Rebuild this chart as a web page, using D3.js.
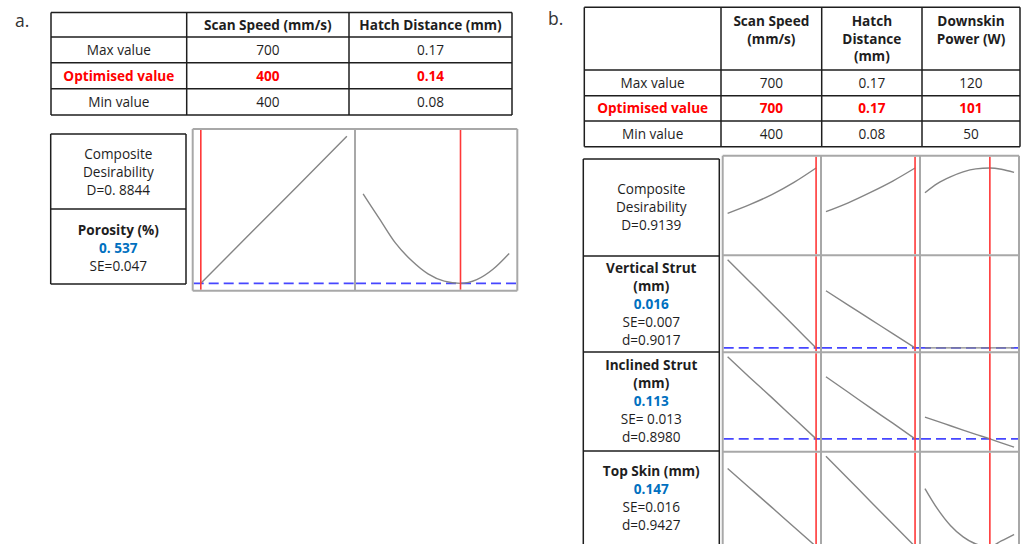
<!DOCTYPE html>
<html>
<head>
<meta charset="utf-8">
<script src="https://cdn.jsdelivr.net/npm/d3@7"></script>
<style>
  html, body { margin: 0; padding: 0; background: #fff; }
  svg { display: block; font-family: "Open Sans", "Noto Sans", sans-serif; }
</style>
</head>
<body>
<script>
// ---------- Panel a: porosity optimisation ----------
const aFactorNames = ["Scan Speed (mm/s)", "Hatch Distance (mm)"];
const aRowNames = ["Max value", "Optimised value", "Min value"];
const aMaxValues = ["700", "0.17"];
const aOptValues = ["400", "0.14"];
const aMinValues = ["400", "0.08"];

const aScanSpeed = [400, 500, 600, 700];
const aPorosityVsScan = [0.537, 1.175, 1.81, 2.45];
const aHatch = [0.08, 0.09, 0.10, 0.11, 0.12, 0.13, 0.14, 0.15, 0.16, 0.17];
const aPorosityVsHatch = [1.70, 1.38, 1.06, 0.83, 0.66, 0.565, 0.537, 0.585, 0.72, 0.926];
const aPorosityPredicted = 0.537;

const aDesirLabel = ["Composite", "Desirability", "D=0. 8844"];
const aPorosityLabel = ["Porosity (%)", "0. 537", "SE=0.047"];

// ---------- Panel b: strut / skin optimisation ----------
const bFactorNames = [["Scan Speed", "(mm/s)"], ["Hatch", "Distance", "(mm)"], ["Downskin", "Power (W)"]];
const bRowNames = ["Max value", "Optimised value", "Min value"];
const bMaxValues = ["700", "0.17", "120"];
const bOptValues = ["700", "0.17", "101"];
const bMinValues = ["400", "0.08", "50"];

const bScanSpeed = [400, 475, 550, 625, 700];
const bHatch = [0.08, 0.1025, 0.125, 0.1475, 0.17];
const bPower = [50, 60, 70, 80, 90, 101, 110, 120];

const desirVsScan  = [0.414, 0.51, 0.62, 0.755, 0.9139];
const desirVsHatch = [0.432, 0.53, 0.645, 0.77, 0.9139];
const desirVsPower = [0.641, 0.744, 0.816, 0.871, 0.904, 0.9139, 0.90, 0.865];

const vertVsScan  = [0.120, 0.094, 0.068, 0.042, 0.016];
const vertVsHatch = [0.0834, 0.0665, 0.0497, 0.0328, 0.016];
const vertVsPower = [0.016, 0.016, 0.016, 0.016, 0.016, 0.016, 0.016, 0.016];

const inclVsScan  = [0.296, 0.250, 0.205, 0.159, 0.113];
const inclVsHatch = [0.2515, 0.217, 0.182, 0.148, 0.113];
const inclVsPower = [0.1615, 0.152, 0.1423, 0.1327, 0.1232, 0.113, 0.1041, 0.0945];

const topVsScan  = [0.40, 0.337, 0.274, 0.210, 0.147];
const topVsHatch = [0.440, 0.367, 0.293, 0.220, 0.147];
const topVsPower = [0.335, 0.268, 0.215, 0.178, 0.155, 0.147, 0.165, 0.186];

const bPredicted = [null, 0.016, 0.113, 0.147];

const bDesirLabel = ["Composite", "Desirability", "D=0.9139"];
const bVertLabel = ["Vertical Strut", "(mm)", "0.016", "SE=0.007", "d=0.9017"];
const bInclLabel = ["Inclined Strut", "(mm)", "0.113", "SE= 0.013", "d=0.8980"];
const bTopLabel = ["Top Skin (mm)", "0.147", "SE=0.016", "d=0.9427"];

// ---------- drawing ----------
const W = 1024, H = 544;
const RED = "#ff0000", BLUE = "#0070c0", INK = "#1e1e1e";
const FS = 13.6;

const svg = d3.select("body").append("svg").attr("width", W).attr("height", H);
svg.append("rect").attr("width", W).attr("height", H).attr("fill", "#fff");

function text(g, x, y, str, opts = {}) {
  return g.append("text")
    .attr("x", x).attr("y", y)
    .attr("text-anchor", opts.anchor || "middle")
    .attr("font-size", opts.size || FS)
    .attr("font-weight", opts.bold ? 700 : 400)
    .attr("fill", opts.color || INK)
    .text(str);
}

function gridLines(g, xs, ys, stroke, width) {
  xs.forEach(x => g.append("line").attr("x1", x).attr("x2", x)
    .attr("y1", ys[0]).attr("y2", ys[ys.length - 1])
    .attr("stroke", stroke).attr("stroke-width", width));
  ys.forEach(y => g.append("line").attr("y1", y).attr("y2", y)
    .attr("x1", xs[0]).attr("x2", xs[xs.length - 1])
    .attr("stroke", stroke).attr("stroke-width", width));
}

// parameter table: header cells (arrays of lines), then three value rows
function drawTable(cols, rows, headers, rowNames, rowValues, headerTop) {
  const g = svg.append("g");
  gridLines(g, cols, rows, INK, 1.5);
  headers.forEach((lines, i) => {
    const cx = (cols[i + 1] + cols[i + 2]) / 2;
    lines.forEach((ln, k) => text(g, cx, headerTop + k * 17.4, ln, { bold: true }));
  });
  rowNames.forEach((name, r) => {
    const cy = (rows[r + 1] + rows[r + 2]) / 2 + 4.8;
    const opt = r === 1;
    const style = { bold: opt, color: opt ? RED : INK };
    text(g, (cols[0] + cols[1]) / 2, cy, name, style);
    rowValues[r].forEach((v, i) => text(g, (cols[i + 1] + cols[i + 2]) / 2, cy, v, style));
  });
}

// response label column: bold title line(s), blue predicted value, then statistics
function drawLabelBox(g, x0, x1, lines, boldCount, blueIndex, firstBaseline) {
  const cx = (x0 + x1) / 2;
  lines.forEach((ln, k) => {
    const st = {};
    if (k < boldCount) st.bold = true;
    if (k === blueIndex) { st.bold = true; st.color = BLUE; }
    text(g, cx, firstBaseline + k * 18, ln, st);
  });
}

const PAD = 0.05;
function paddedDomain(lo, hi) {
  const p = (hi - lo) * PAD;
  return [lo - p, hi + p];
}

// one profile cell: gray response curve, red optimum line, blue dashed predicted value
function drawCell(g, x0, x1, y0, y1, xDom, yDom, xs, ys, optX, predicted) {
  const px = (x1 - x0) * PAD;
  const x = d3.scaleLinear().domain(xDom).range([x0 + px, x1 - px]);
  const y = d3.scaleLinear().domain(yDom).range([y1, y0]);
  const pts = xs.map((v, i) => [v, ys[i]]);
  if (predicted != null) {
    g.append("line").attr("x1", x0 + 1).attr("x2", x1 - 1)
      .attr("y1", y(predicted)).attr("y2", y(predicted))
      .attr("stroke", "#4646ff").attr("stroke-width", 1.7)
      .attr("stroke-dasharray", "10,5");
  }
  g.append("path")
    .attr("d", d3.line().x(d => x(d[0])).y(d => y(d[1])).curve(d3.curveMonotoneX)(pts))
    .attr("fill", "none").attr("stroke", "#858585").attr("stroke-width", 1.4);
  g.append("line").attr("x1", x(optX)).attr("x2", x(optX))
    .attr("y1", y0 + 1).attr("y2", y1 - 1)
    .attr("stroke", "#ff3838").attr("stroke-width", 1.6);
}

// ----- panel a -----
text(svg, 15, 27, "a.", { anchor: "start", size: 17.5, color: "#333" });
drawTable([51, 186.7, 349, 512], [12.5, 37, 62.7, 88.7, 115],
  aFactorNames.map(s => [s]), aRowNames, [aMaxValues, aOptValues, aMinValues], 29.5);

{
  const g = svg.append("g");
  const lx = [50.7, 186], ly = [134, 209, 284];
  gridLines(g, lx, ly, INK, 1.5);
  drawLabelBox(g, lx[0], lx[1], aDesirLabel, 0, -1, 158.5);
  drawLabelBox(g, lx[0], lx[1], aPorosityLabel, 1, 1, 234.5);

  const cx = [192.7, 355, 517.3], cy = [129, 290.7];
  const all = aPorosityVsScan.concat(aPorosityVsHatch);
  const yDom = paddedDomain(d3.min(all), d3.max(all));
  drawCell(g, cx[0], cx[1], cy[0], cy[1], d3.extent(aScanSpeed), yDom,
    aScanSpeed, aPorosityVsScan, +aOptValues[0], aPorosityPredicted);
  drawCell(g, cx[1], cx[2], cy[0], cy[1], d3.extent(aHatch), yDom,
    aHatch, aPorosityVsHatch, +aOptValues[1], aPorosityPredicted);
  gridLines(g, cx, cy, "#a8a8a8", 2);
}

// ----- panel b -----
text(svg, 548, 25, "b.", { anchor: "start", size: 17.5, color: "#333" });
drawTable([584.3, 721, 821.7, 922, 1020], [7.3, 70, 95.7, 121, 146.7],
  bFactorNames, bRowNames, [bMaxValues, bOptValues, bMinValues], 26.3);

{
  const g = svg.append("g");
  const lx = [583.3, 719.3], ly = [159, 256, 352, 451, 560];
  gridLines(g, lx, ly, INK, 1.5);
  drawLabelBox(g, lx[0], lx[1], bDesirLabel, 0, -1, 193.5);
  drawLabelBox(g, lx[0], lx[1], bVertLabel, 2, 2, 273);
  drawLabelBox(g, lx[0], lx[1], bInclLabel, 2, 2, 370.3);
  drawLabelBox(g, lx[0], lx[1], bTopLabel, 1, 1, 476.3);

  const cx = [722.7, 821, 920, 1019];
  const cy = [155.7, 255.3, 352.3, 451.7, 551];
  const factorX = [bScanSpeed, bHatch, bPower];
  const rowsData = [
    [desirVsScan, desirVsHatch, desirVsPower],
    [vertVsScan, vertVsHatch, vertVsPower],
    [inclVsScan, inclVsHatch, inclVsPower],
    [topVsScan, topVsHatch, topVsPower]
  ];
  rowsData.forEach((series, r) => {
    const all = series.flat();
    const yDom = r === 0 ? paddedDomain(0, 1) : paddedDomain(d3.min(all), d3.max(all));
    series.forEach((ys, c) => {
      drawCell(g, cx[c], cx[c + 1], cy[r], cy[r + 1], d3.extent(factorX[c]), yDom,
        factorX[c], ys, +bOptValues[c], bPredicted[r]);
    });
  });
  gridLines(g, cx, cy, "#a8a8a8", 2);
}
</script>
</body>
</html>
